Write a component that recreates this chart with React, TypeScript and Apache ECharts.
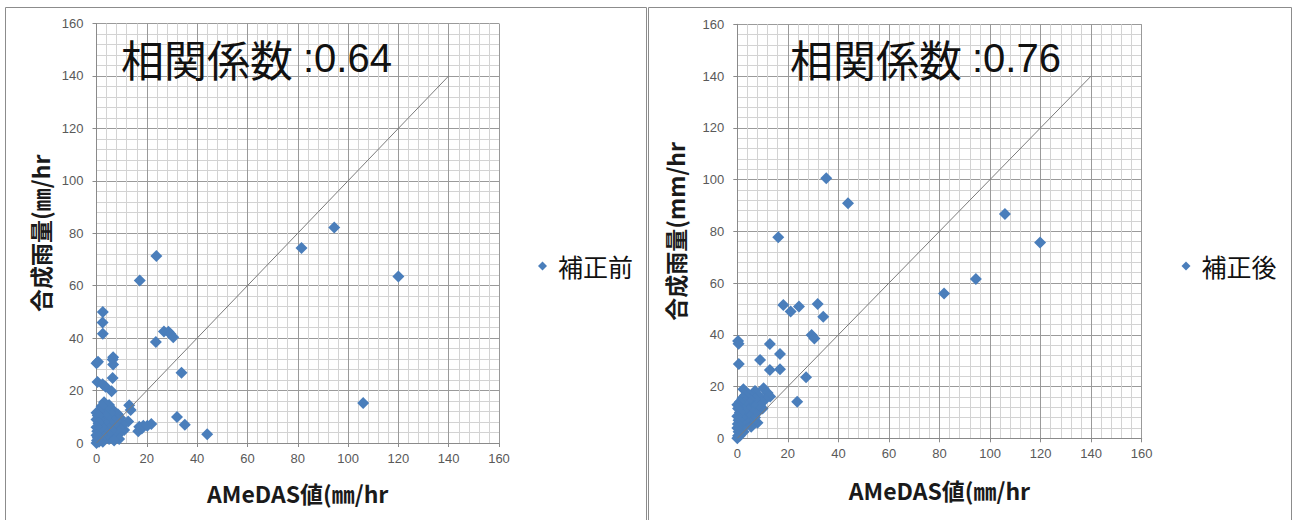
import React, { useEffect, useRef } from "react";
import * as echarts from "echarts";

// Shared axis range (mm/hr)
const AXIS_MIN = 0;
const AXIS_MAX = 160;
const AXIS_STEP = 20;

const beforeName = "補正前";
const afterName = "補正後";
const corrLabel = "相関係数";
const beforeCorr = "0.64";
const afterCorr = "0.76";

const xAxisName = "AMeDAS値(㎜/hr";
const yAxisNameLeft = "合成雨量(㎜/hr";
const yAxisNameRight = "合成雨量(mm/hr";

// 1:1 reference line
const identityLine: [number, number][] = [
  [0, 0],
  [140, 140],
];

// [AMeDAS, composite] before correction
const beforePoints: [number, number][] = [
  [120, 63.5], [94.5, 82.2], [81.5, 74.4], [106, 15.3], [23.8, 71.3], [17.2, 62],
  [2.5, 50], [2.4, 46], [2.5, 41.7], [23.6, 38.5], [26.8, 42.5], [28.6, 42.4],
  [29.4, 41.6], [30.5, 40.3], [33.8, 26.8], [32, 9.9], [35.1, 7], [44, 3.3],
  [0, 30.4], [0.6, 31], [0.4, 23.3], [2.4, 22.4], [3.6, 21.5], [6.6, 32.7],
  [6.4, 31.8], [6.6, 29.9], [6.4, 24.8], [6, 19.7], [13, 14.4], [13.6, 12.6],
  [12.6, 8.2], [16.6, 4.5], [17, 6.2], [18, 5.5], [18.6, 6.6], [20.2, 6.6],
  [21.8, 7.2], [11, 5], [10.5, 7], [10, 4.5], [9.5, 9.5], [9, 6], [8.5, 11],
  [8.5, 3.5], [8, 8.5], [8, 5], [7.5, 10], [7, 12], [7, 7], [6.5, 3],
  [6, 13], [6, 9.5], [6, 5], [5.5, 11.5], [5, 14.5], [5, 8], [5, 1.5],
  [4.5, 3.5], [4, 6.5], [4, 10], [4, 14], [3.5, 13], [3, 15.5], [3, 11],
  [3, 8], [3, 5], [3, 2], [2.5, 0.5], [2, 3], [2, 6], [2, 14], [1.5, 9],
  [1, 12], [1.5, 1.5], [1, 0.5], [0, 11.5], [0.5, 10.5], [0, 9], [0.8, 7.5],
  [0, 6], [0.3, 4.5], [0, 3], [0.5, 2], [0.2, 1], [0, 0], [9, 1.5], [7, 1],
];

// [AMeDAS, composite] after correction
const afterPoints: [number, number][] = [
  [35.2, 100.5], [43.8, 90.8], [16.2, 77.7], [105.9, 86.7], [119.8, 75.7],
  [94.4, 61.6], [81.8, 56], [18.2, 51.5], [21.1, 49], [24.4, 50.9], [31.8, 51.9],
  [34, 47], [29.4, 39.9], [30.5, 38.6], [0.3, 37.6], [0.5, 36.5], [0.6, 28.7],
  [9, 30.3], [12.9, 36.4], [16.9, 32.6], [12.9, 26.4], [16.9, 26.7], [27.2, 23.6],
  [23.7, 14.1], [10.4, 19.3], [12, 17.5], [13, 16.2], [2.4, 19], [7, 18.3],
  [11, 15], [8.5, 16.5], [6, 16.5], [4.5, 17], [10, 11.5], [9.5, 14], [9, 12.5],
  [8, 6], [8, 10], [7.5, 12], [7, 8], [7, 15.5], [6.5, 10], [6, 6.5], [6, 13],
  [5.5, 8], [5, 15], [5, 11], [5.5, 4.5], [4.5, 6.5], [4, 9.5], [4, 14.5],
  [3.5, 12], [3.5, 5], [3, 7], [3, 16.5], [2, 15.5], [2.5, 13.5], [2.5, 10.5],
  [2, 8], [2.5, 2.5], [2, 4], [1.5, 6], [1.5, 12], [1, 14], [0, 13],
  [0.3, 11.5], [1, 10], [0, 8.5], [0.5, 7], [0.2, 5.5], [1, 1], [1.5, 2],
  [0, 4], [0.5, 2.5], [0.3, 1], [0, 0],
];

const tickFont = "'Liberation Sans', Arial, sans-serif";
const jpFont = "'Noto Sans CJK JP', sans-serif";
const markerColor = "#4a7ebb";

function makeXAxis(gridIndex: number, nameGap: number) {
  return {
    gridIndex,
    type: "value",
    min: AXIS_MIN,
    max: AXIS_MAX,
    interval: AXIS_STEP,
    name: xAxisName,
    nameLocation: "middle",
    nameGap,
    nameTextStyle: { fontSize: 23, fontWeight: "bold", color: "#1a1a1a", fontFamily: jpFont },
    axisLine: { show: true, onZero: false, lineStyle: { color: "#8a8a8a", width: 1 } },
    axisTick: { show: true, length: 4, lineStyle: { color: "#8a8a8a" } },
    axisLabel: { color: "#595959", fontSize: 13, margin: 9, fontFamily: tickFont },
    splitLine: { show: true, lineStyle: { color: "#9a9a9a", width: 1 } },
    minorTick: { show: false, splitNumber: 5 },
    minorSplitLine: { show: true, lineStyle: { color: "#d3d3d3", width: 1 } },
  };
}

function makeYAxis(gridIndex: number, name: string, nameGap: number) {
  return {
    gridIndex,
    type: "value",
    min: AXIS_MIN,
    max: AXIS_MAX,
    interval: AXIS_STEP,
    name,
    nameLocation: "middle",
    nameGap,
    nameTextStyle: { fontSize: 23, fontWeight: "bold", color: "#1a1a1a", fontFamily: jpFont },
    axisLine: { show: true, onZero: false, lineStyle: { color: "#8a8a8a", width: 1 } },
    axisTick: { show: true, length: 4, lineStyle: { color: "#8a8a8a" } },
    axisLabel: { color: "#595959", fontSize: 13, margin: 13, fontFamily: tickFont },
    splitLine: { show: true, lineStyle: { color: "#9a9a9a", width: 1 } },
    minorTick: { show: false, splitNumber: 5 },
    minorSplitLine: { show: true, lineStyle: { color: "#d3d3d3", width: 1 } },
  };
}

// Correlation caption: light CJK label, sans-serif digits
const titleRich = {
  jp: { fontFamily: jpFont, fontSize: 43, fontWeight: "normal", color: "#111", lineHeight: 50 },
  num: {
    fontFamily: tickFont,
    fontSize: 40,
    fontWeight: "normal",
    color: "#111",
    lineHeight: 50,
    padding: [0, 0, 0, 10],
  },
};

function makeTitle(corr: string, left: number) {
  return {
    text: `{jp|${corrLabel}}{num|:${corr}}`,
    left,
    top: 33,
    padding: 0,
    textStyle: { fontWeight: "normal", rich: titleRich },
  };
}

function makeLegend(name: string, left: number) {
  return {
    data: [name],
    left,
    top: 251,
    padding: 0,
    icon: "diamond",
    itemWidth: 9,
    itemHeight: 9,
    itemStyle: { color: markerColor },
    textStyle: {
      fontSize: 25,
      color: "#111",
      fontFamily: jpFont,
      lineHeight: 30,
      padding: [0, 0, 0, 6],
    },
  };
}

export default function App() {
  const ref = useRef<HTMLDivElement>(null);

  useEffect(() => {
    if (!ref.current) return;
    const chart = echarts.init(ref.current, undefined, { renderer: "svg" });
    chart.setOption({
      animation: false,
      backgroundColor: "#ffffff",
      title: [makeTitle(beforeCorr, 121), makeTitle(afterCorr, 790)],
      legend: [makeLegend(beforeName, 538), makeLegend(afterName, 1181.5)],
      grid: [
        { left: 96.5, top: 23.5, width: 402.5, height: 419.5 },
        { left: 737.3, top: 24.3, width: 404.4, height: 414 },
      ],
      xAxis: [makeXAxis(0, 38), makeXAxis(1, 40)],
      yAxis: [makeYAxis(0, yAxisNameLeft, 45), makeYAxis(1, yAxisNameRight, 51)],
      graphic: [
        {
          type: "rect",
          silent: true,
          shape: { x: 5.5, y: 7.5, width: 641, height: 520 },
          style: { fill: "none", stroke: "#8c8c8c", lineWidth: 1 },
        },
        {
          type: "rect",
          silent: true,
          shape: { x: 648.5, y: 7.5, width: 643, height: 520 },
          style: { fill: "none", stroke: "#8c8c8c", lineWidth: 1 },
        },
      ],
      series: [
        {
          name: beforeName,
          type: "scatter",
          xAxisIndex: 0,
          yAxisIndex: 0,
          symbol: "diamond",
          symbolSize: 12,
          itemStyle: { color: markerColor, opacity: 1 },
          data: beforePoints,
        },
        {
          name: "1:1 (before)",
          type: "line",
          xAxisIndex: 0,
          yAxisIndex: 0,
          silent: true,
          symbol: "none",
          lineStyle: { color: "#7a7a7a", width: 1 },
          data: identityLine,
        },
        {
          name: afterName,
          type: "scatter",
          xAxisIndex: 1,
          yAxisIndex: 1,
          symbol: "diamond",
          symbolSize: 12,
          itemStyle: { color: markerColor, opacity: 1 },
          data: afterPoints,
        },
        {
          name: "1:1 (after)",
          type: "line",
          xAxisIndex: 1,
          yAxisIndex: 1,
          silent: true,
          symbol: "none",
          lineStyle: { color: "#7a7a7a", width: 1 },
          data: identityLine,
        },
      ],
    });
    return () => chart.dispose();
  }, []);

  return (
    <div
      ref={ref}
      style={{ position: "absolute", left: 0, top: 0, width: 1295, height: 520 }}
    />
  );
}
